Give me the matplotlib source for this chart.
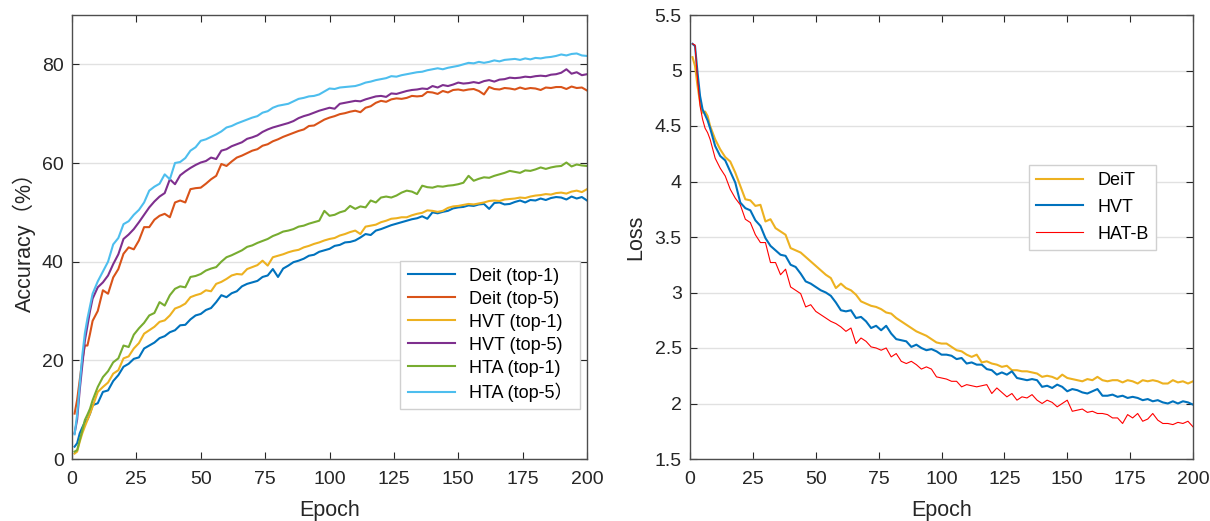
import numpy as np
import matplotlib
matplotlib.use("Agg")
import matplotlib.pyplot as plt

plt.rcParams['font.family'] = ['Liberation Sans', 'Noto Sans CJK SC', 'DejaVu Sans']

# Epoch grid shared by every curve
epochs = [1, 2, 3, 4, 5, 6, 7, 8] + list(range(10, 201, 2))

# Accuracy (%) curves
deit_top1 = [2.5, 3.2, 5.2, 6.4, 7.5, 8.0, 9.2, 10.9,
             11.3, 13.6, 13.9, 15.8, 17.0, 18.7, 19.3, 20.3, 20.6, 22.4,
             23.0, 23.6, 24.5, 24.9, 25.7, 26.1, 27.1, 27.2, 28.3, 29.1,
             29.4, 30.2, 30.6, 31.8, 33.2, 32.8, 33.6, 34.0, 35.0, 35.5,
             35.8, 36.1, 36.9, 37.2, 38.5, 36.9, 38.6, 39.2, 39.9, 40.2,
             40.6, 41.2, 41.4, 42.0, 42.3, 42.6, 43.2, 43.4, 43.9, 44.0,
             44.3, 44.9, 45.6, 45.4, 46.3, 46.6, 47.0, 47.4, 47.7, 48.0,
             48.3, 48.6, 48.8, 49.2, 48.7, 50.0, 49.8, 50.1, 50.3, 50.8,
             51.0, 51.1, 51.4, 51.3, 51.6, 51.7, 50.7, 51.9, 52.0, 51.6,
             51.7, 52.1, 52.4, 52.0, 52.5, 52.4, 52.8, 52.5, 52.9, 53.1,
             53.0, 52.6, 53.2, 52.8, 53.1, 52.4]
deit_top5 = [9.2, 12.0, 16.0, 20.0, 23.0, 23.0, 25.4, 28.0,
             30.0, 34.2, 33.5, 36.8, 38.5, 41.6, 42.9, 42.5, 44.3, 47.0,
             47.0, 48.5, 49.3, 49.7, 49.0, 52.0, 52.4, 52.0, 54.7, 54.9,
             55.0, 55.8, 56.7, 57.4, 59.8, 59.4, 60.3, 61.1, 61.5, 62.0,
             62.5, 62.8, 63.5, 63.8, 64.4, 64.8, 65.3, 65.7, 66.1, 66.5,
             66.8, 67.5, 67.6, 68.2, 68.8, 69.2, 69.5, 69.9, 70.1, 70.4,
             70.6, 70.3, 71.2, 71.5, 72.2, 72.6, 72.4, 72.9, 73.1, 73.0,
             73.2, 73.6, 73.5, 73.6, 74.4, 74.3, 74.0, 74.6, 74.3, 74.8,
             74.9, 74.7, 74.9, 75.0, 74.6, 73.9, 75.4, 75.0, 74.9, 75.2,
             75.1, 74.9, 75.3, 75.0, 75.2, 75.1, 74.8, 75.3, 75.2, 75.4,
             75.4, 75.0, 75.5, 75.2, 75.3, 74.7]
hvt_top1 = [1.1, 1.5, 3.5, 5.2, 6.6, 7.9, 9.2, 10.6,
            13.6, 14.6, 15.5, 17.3, 18.0, 20.4, 20.8, 22.4, 23.5, 25.4,
            26.1, 26.8, 27.8, 28.1, 29.1, 30.5, 30.9, 31.5, 32.8, 33.2,
            33.5, 34.2, 34.0, 35.5, 35.9, 36.5, 37.2, 37.5, 37.4, 38.5,
            38.9, 39.3, 40.2, 39.2, 40.9, 41.2, 41.5, 41.9, 42.2, 42.4,
            42.9, 43.2, 43.6, 43.9, 44.3, 44.6, 44.8, 45.3, 45.6, 46.0,
            46.3, 45.6, 47.1, 47.3, 47.5, 48.0, 48.3, 48.7, 48.8, 49.0,
            49.0, 49.4, 49.7, 49.9, 50.4, 50.3, 50.1, 50.3, 50.9, 51.2,
            51.3, 51.5, 51.7, 51.6, 51.8, 52.0, 52.3, 52.4, 52.3, 52.6,
            52.7, 52.8, 53.0, 52.9, 53.2, 53.4, 53.5, 53.7, 53.6, 53.9,
            54.0, 53.8, 54.2, 54.4, 54.1, 54.7]
hvt_top5 = [5.2, 8.0, 14.0, 19.0, 24.0, 27.0, 30.0, 32.5,
            34.8, 35.8, 37.2, 39.5, 41.5, 44.6, 45.5, 46.6, 48.0, 49.5,
            51.0, 52.2, 53.2, 53.9, 56.7, 55.7, 57.5, 58.3, 59.0, 59.6,
            60.1, 60.4, 61.1, 60.8, 62.5, 62.8, 63.4, 63.8, 64.2, 64.9,
            65.2, 65.6, 66.3, 66.8, 67.2, 67.5, 67.8, 68.1, 68.5, 69.1,
            69.5, 69.8, 70.2, 70.6, 70.9, 71.2, 71.0, 72.0, 72.2, 72.4,
            72.6, 72.5, 72.9, 73.2, 73.5, 73.6, 73.4, 74.1, 74.0, 74.3,
            74.6, 74.8, 74.9, 75.1, 75.0, 75.6, 75.3, 75.8, 75.6, 75.9,
            76.3, 76.1, 76.2, 76.4, 76.2, 76.6, 76.8, 76.5, 76.9, 77.0,
            77.3, 77.2, 77.3, 77.5, 77.4, 77.6, 77.7, 77.6, 77.9, 78.0,
            78.3, 79.0, 78.1, 78.4, 77.8, 78.0]
hta_top1 = [1.5, 1.8, 3.8, 5.8, 7.9, 9.0, 10.2, 11.9,
            14.6, 16.6, 17.8, 19.6, 20.4, 23.0, 22.7, 25.2, 26.5, 27.6,
            29.1, 29.6, 31.8, 31.1, 33.2, 34.5, 35.0, 34.8, 36.9, 37.1,
            37.5, 38.2, 38.6, 38.9, 40.0, 40.9, 41.3, 41.8, 42.3, 43.0,
            43.3, 43.8, 44.2, 44.6, 45.2, 45.6, 46.1, 46.3, 46.6, 47.1,
            47.3, 47.7, 48.0, 48.3, 50.3, 49.3, 49.5, 50.0, 50.3, 51.3,
            50.7, 51.2, 51.0, 52.4, 52.0, 53.0, 53.2, 53.0, 53.4, 54.0,
            54.4, 54.2, 53.7, 55.4, 55.1, 55.0, 55.3, 55.2, 55.4, 55.5,
            55.7, 56.0, 57.4, 56.4, 56.8, 57.1, 57.0, 57.4, 57.7, 58.0,
            58.4, 58.2, 58.0, 58.5, 58.4, 58.7, 59.1, 58.8, 59.1, 59.3,
            59.4, 60.1, 59.3, 59.7, 59.5, 59.4]
hta_top5 = [5.0, 9.0, 15.0, 21.0, 25.5, 28.5, 31.0, 33.5,
            36.0, 38.0, 40.0, 43.5, 44.8, 47.6, 48.2, 49.5, 50.5, 52.0,
            54.4, 55.2, 55.8, 57.7, 56.7, 60.0, 60.2, 61.0, 62.5, 63.2,
            64.5, 64.8, 65.3, 65.8, 66.4, 67.2, 67.5, 68.0, 68.4, 68.8,
            69.2, 69.5, 70.2, 70.5, 71.2, 71.6, 71.8, 72.0, 72.5, 73.0,
            73.2, 73.5, 73.6, 73.9, 74.5, 75.1, 75.0, 75.3, 75.4, 75.5,
            75.6, 75.9, 76.3, 76.5, 76.8, 77.0, 77.2, 77.6, 77.5, 77.8,
            78.0, 78.2, 78.4, 78.5, 78.8, 79.0, 79.2, 79.0, 79.3, 79.5,
            79.7, 80.0, 80.3, 80.2, 80.5, 80.3, 80.5, 80.8, 80.6, 80.9,
            81.0, 81.1, 80.9, 81.2, 81.0, 81.3, 81.2, 81.4, 81.5, 81.7,
            82.0, 81.8, 82.1, 82.2, 81.8, 81.7]

# Loss curves
loss_deit = [5.12, 5.04, 4.86, 4.71, 4.62, 4.63, 4.59, 4.50,
             4.38, 4.29, 4.22, 4.18, 4.08, 3.96, 3.84, 3.83, 3.78, 3.79,
             3.64, 3.66, 3.58, 3.55, 3.52, 3.40, 3.38, 3.36, 3.32, 3.28,
             3.24, 3.20, 3.16, 3.13, 3.04, 3.08, 3.04, 3.02, 2.98, 2.92,
             2.90, 2.88, 2.87, 2.85, 2.82, 2.81, 2.77, 2.74, 2.71, 2.68,
             2.65, 2.63, 2.61, 2.58, 2.55, 2.54, 2.54, 2.51, 2.48, 2.47,
             2.44, 2.42, 2.44, 2.37, 2.38, 2.36, 2.35, 2.33, 2.34, 2.30,
             2.30, 2.29, 2.29, 2.28, 2.27, 2.24, 2.25, 2.24, 2.22, 2.26,
             2.23, 2.22, 2.21, 2.20, 2.22, 2.21, 2.24, 2.21, 2.20, 2.21,
             2.21, 2.19, 2.21, 2.20, 2.18, 2.21, 2.20, 2.21, 2.20, 2.18,
             2.18, 2.21, 2.19, 2.20, 2.18, 2.20]
loss_hvt = [5.24, 5.22, 4.98, 4.77, 4.65, 4.60, 4.55, 4.48,
            4.32, 4.23, 4.19, 4.09, 3.99, 3.81, 3.76, 3.74, 3.65, 3.60,
            3.49, 3.42, 3.38, 3.34, 3.33, 3.25, 3.23, 3.17, 3.10, 3.08,
            3.05, 3.02, 3.00, 2.97, 2.91, 2.84, 2.83, 2.84, 2.77, 2.78,
            2.74, 2.68, 2.70, 2.66, 2.70, 2.63, 2.58, 2.57, 2.56, 2.51,
            2.53, 2.50, 2.48, 2.49, 2.47, 2.44, 2.44, 2.43, 2.40, 2.41,
            2.36, 2.37, 2.35, 2.35, 2.31, 2.30, 2.26, 2.28, 2.26, 2.29,
            2.23, 2.22, 2.21, 2.22, 2.21, 2.15, 2.16, 2.14, 2.17, 2.15,
            2.11, 2.13, 2.12, 2.10, 2.09, 2.11, 2.13, 2.07, 2.07, 2.08,
            2.06, 2.07, 2.05, 2.06, 2.05, 2.03, 2.04, 2.02, 2.03, 2.01,
            2.00, 2.02, 2.00, 2.02, 2.01, 1.99]
loss_hatb = [5.24, 5.23, 4.92, 4.68, 4.56, 4.48, 4.44, 4.38,
             4.21, 4.12, 4.05, 3.93, 3.85, 3.79, 3.66, 3.63, 3.52, 3.45,
             3.45, 3.27, 3.27, 3.16, 3.21, 3.05, 3.02, 2.99, 2.87, 2.89,
             2.83, 2.80, 2.77, 2.74, 2.72, 2.69, 2.65, 2.68, 2.54, 2.59,
             2.56, 2.51, 2.50, 2.48, 2.50, 2.42, 2.45, 2.38, 2.36, 2.38,
             2.35, 2.31, 2.33, 2.31, 2.24, 2.23, 2.22, 2.20, 2.20, 2.15,
             2.17, 2.16, 2.15, 2.16, 2.17, 2.09, 2.14, 2.10, 2.06, 2.09,
             2.03, 2.06, 2.05, 2.08, 2.03, 2.00, 2.03, 2.01, 1.97, 2.00,
             2.03, 1.93, 1.94, 1.95, 1.92, 1.93, 1.91, 1.91, 1.90, 1.87,
             1.87, 1.82, 1.90, 1.87, 1.91, 1.84, 1.86, 1.91, 1.85, 1.82,
             1.82, 1.81, 1.83, 1.82, 1.84, 1.79]

acc_labels = ['Deit (top-1)', 'Deit (top-5)', 'HVT (top-1)', 'HVT (top-5)',
              'HTA (top-1)', 'HTA (top-5）']
loss_labels = ['DeiT', 'HVT', 'HAT-B']

# MATLAB default line colours
blue = '#0072BD'
orange = '#D95319'
yellow = '#EDB120'
purple = '#7E2F8E'
green = '#77AC30'
cyan = '#4DBEEE'

fig = plt.figure(figsize=(12.1, 5.21), dpi=100)
ax1 = fig.add_axes([72 / 1210, 62 / 521, 515 / 1210, 444 / 521])
ax2 = fig.add_axes([690 / 1210, 62 / 521, 503 / 1210, 444 / 521])


def style_axes(ax):
    ax.set_xlim(0, 200)
    ax.set_xticks(range(0, 201, 25))
    ax.grid(axis='y', color='#e1e1e1', linewidth=1.0)
    ax.set_axisbelow(True)
    ax.tick_params(direction='in', top=True, right=True, length=5,
                   width=0.8, labelsize=14, colors='#262626')
    ax.tick_params(axis='x', pad=9)
    ax.tick_params(axis='y', pad=6)
    for s in ax.spines.values():
        s.set_color('#4d4d4d')
        s.set_linewidth(1.0)
    ax.set_xlabel('Epoch', fontsize=15.5, color='#262626', labelpad=8)


# Left panel: accuracy
acc_series = [deit_top1, deit_top5, hvt_top1, hvt_top5, hta_top1, hta_top5]
acc_colors = [blue, orange, yellow, purple, green, cyan]
for vals, col, lab in zip(acc_series, acc_colors, acc_labels):
    ax1.plot(epochs, vals, color=col, linewidth=1.5, label=lab)
style_axes(ax1)
ax1.set_ylim(0, 90)
ax1.set_yticks([0, 20, 40, 60, 80])
ax1.set_ylabel('Accuracy（%）', fontsize=15.5, color='#262626', labelpad=4)
leg1 = ax1.legend(loc='upper right', bbox_to_anchor=(0.986, 0.447),
                  borderaxespad=0, fontsize=13, handlelength=2.6,
                  labelspacing=0.33, fancybox=False, edgecolor='#d0d0d0',
                  framealpha=1)
leg1.get_frame().set_linewidth(1.0)

# Right panel: loss
ax2.plot(epochs, loss_deit, color=yellow, linewidth=1.5, label=loss_labels[0])
ax2.plot(epochs, loss_hvt, color=blue, linewidth=1.5, label=loss_labels[1])
ax2.plot(epochs, loss_hatb, color='#FF0000', linewidth=0.8, label=loss_labels[2])
style_axes(ax2)
ax2.set_ylim(1.5, 5.5)
ax2.set_yticks([1.5, 2, 2.5, 3, 3.5, 4, 4.5, 5, 5.5])
ax2.set_yticklabels(['1.5', '2', '2.5', '3', '3.5', '4', '4.5', '5', '5.5'])
ax2.set_ylabel('Loss', fontsize=15.5, color='#262626', labelpad=6)
leg2 = ax2.legend(loc='upper right', bbox_to_anchor=(0.926, 0.663),
                  borderaxespad=0, fontsize=13, handlelength=2.6,
                  labelspacing=0.55, fancybox=False, edgecolor='#d0d0d0',
                  framealpha=1)
leg2.get_frame().set_linewidth(1.0)

fig.savefig('out.png', dpi=100)
